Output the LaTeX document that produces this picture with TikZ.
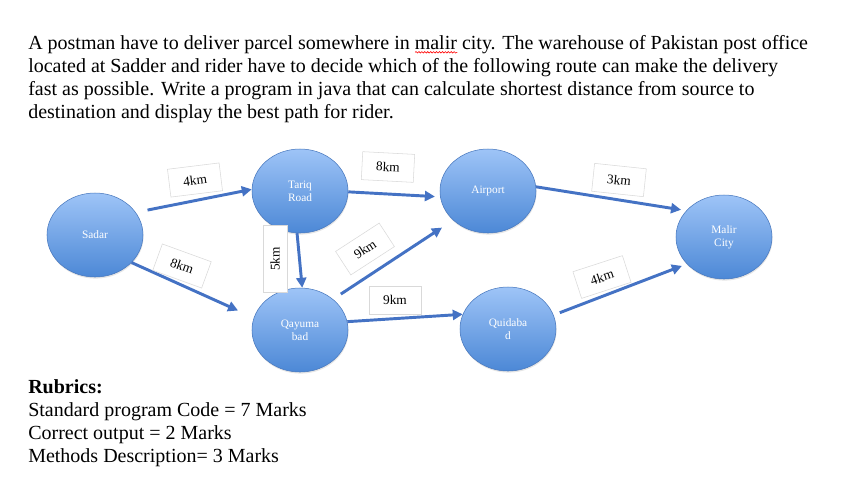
\documentclass[tikz,border=0pt]{standalone}
\usepackage{fontspec}
\setmainfont{Liberation Serif}
\usetikzlibrary{arrows.meta,shapes.geometric,shadows,decorations.pathmorphing}
\definecolor{placeblue}{RGB}{68,114,196}
\definecolor{placetop}{RGB}{158,196,247}
\definecolor{placebottom}{RGB}{76,136,214}
\definecolor{placeedge}{RGB}{72,120,190}
\newcommand{\spellmark}[1]{\setbox0\hbox{#1}\rlap{\raisebox{-3pt}{\tikz\draw[red, line width=0.45pt, decorate, decoration={snake, amplitude=0.55pt, segment length=2.2pt}] (0pt,0pt) -- (\wd0,0pt);}}#1}
\tikzset{
    diagramplace/.style={ellipse, draw=placeedge, thin, top color=placetop, bottom color=placebottom, text=white, align=center, font=\fontsize{8.5}{10}\selectfont, minimum width=72pt, minimum height=63pt, inner sep=0pt, drop shadow={opacity=0.2, shadow xshift=0.4pt, shadow yshift=-1.2pt}},
    diagramarrow/.style={-{Triangle[length=7.5pt, width=7.5pt]}, line width=2.2pt, draw=placeblue},
    diagramlabel/.style={draw=black!15, fill=white, font=\fontsize{10}{12}\selectfont, minimum width=39pt, minimum height=21pt, inner sep=1pt},
    diagramtext/.style={align=left, font=\fontsize{15}{17.25}\selectfont, inner sep=0pt, anchor=north west}
}
\begin{document}
\begin{tikzpicture}[x=0.75pt, y=-0.75pt]
    \fill[white] (0,0) rectangle (853,480);
    \useasboundingbox (0,0) rectangle (853,480);
    \node[diagramtext] (task) at (28,35) {A postman have to deliver parcel somewhere in \spellmark{malir} city. The warehouse of Pakistan post office\\located at Sadder and rider have to decide which of the following route can make the delivery\\fast as possible. Write a program in java that can calculate shortest distance from source to\\destination and display the best path for rider.};
    \node[diagramplace] (sadar) at (95,235) {Sadar};
    \node[diagramplace] (tariq) at (300,191) {Tariq\\Road};
    \node[diagramplace] (qayuma) at (300,330) {Qayuma\\bad};
    \node[diagramplace] (airport) at (488,191) {Airport};
    \node[diagramplace] (quidabad) at (508,329) {Quidaba\\d};
    \node[diagramplace] (malir) at (724,237) {Malir\\City};
    \draw[diagramarrow, shorten <=9pt] (sadar.29) -- (tariq.178);
    \draw[diagramarrow, shorten >=13pt] (sadar.-37) -- (qayuma.165);
    \draw[diagramarrow] (tariq.-94) -- (qayuma.87);
    \draw[diagramarrow, shorten >=4pt] (tariq.-1) -- (airport.187);
    \draw[diagramarrow, shorten <=7pt, shorten >=10pt] (qayuma.43) -- (airport.220);
    \draw[diagramarrow] (qayuma.10) -- (quidabad.162);
    \draw[diagramarrow, shorten >=4pt] (airport.5) -- (malir.145);
    \draw[diagramarrow, shorten <=5pt, shorten >=4pt] (quidabad.17) -- (malir.216);
    \node[diagramlabel, rotate=7] (st) at (195,180) {4km};
    \node[diagramlabel, rotate=-20] (sq) at (182,266) {8km};
    \node[diagramlabel, rotate=90, minimum width=50pt, minimum height=18pt] (tq) at (275,259) {5km};
    \node[diagramlabel, rotate=-3] (ta) at (388,167) {8km};
    \node[diagramlabel, rotate=33] (qa) at (365,249) {9km};
    \node[diagramlabel] (qq) at (395,300) {9km};
    \node[diagramlabel, rotate=-6] (am) at (619,180) {3km};
    \node[diagramlabel, rotate=18] (qm) at (602,277) {4km};
    \node[diagramtext] (rubrics) at (28,379) {\textbf{Rubrics:}\\Standard program Code = 7 Marks\\Correct output = 2 Marks\\Methods Description= 3 Marks};
\end{tikzpicture}
\end{document}
